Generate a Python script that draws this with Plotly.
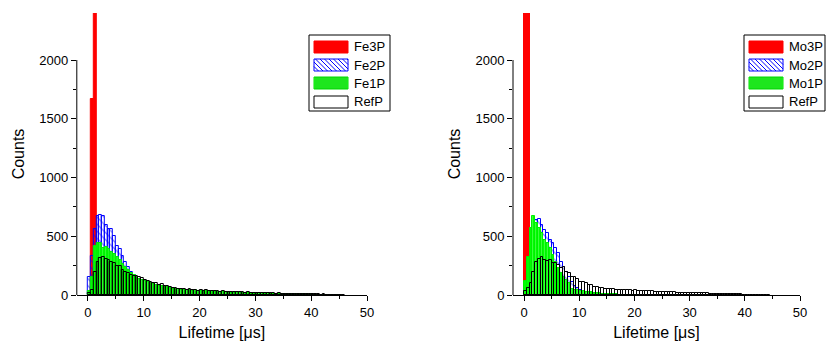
import plotly.graph_objects as go

# ---------------- data (counts per 0.5 µs bin, starting at 0 µs) ----------------
bin_width = 0.5

fe3p = [0, 1670, 2600]
fe2p = [150, 330, 560, 670, 680, 670, 600, 560, 560, 500, 420, 390, 330, 280, 240, 200,
        170, 150, 130, 115, 100, 90, 80, 72, 65, 58, 52, 46, 42, 38, 35, 32, 29, 27, 25,
        23, 21, 19, 18, 17, 16, 15, 14, 13, 12, 11, 10, 9, 9, 8, 8, 7, 7, 6, 6, 5, 5, 5,
        4, 4, 4, 3, 3, 3, 3, 2, 2, 2, 2, 2, 1, 1, 1, 1, 1, 1, 1, 0, 1]
fe1p = [30, 150, 420, 445, 440, 400, 410, 390, 370, 350, 320, 300, 260, 235, 210, 190,
        172, 155, 140, 128, 118, 108, 100, 90, 85, 78, 75, 66, 65, 58, 52, 54, 48, 44, 45,
        40, 42, 37, 39, 33, 37, 31, 34, 29, 30, 26, 29, 24, 27, 23, 24, 21, 20, 22, 18, 19,
        17, 18, 16, 17, 15, 14, 14, 12, 13, 11, 12, 10, 10, 9, 9, 8, 8, 7, 7, 6, 6, 5, 6,
        4, 5, 3, 4, 3, 3, 2, 3, 2, 1, 2, 1]
refp_fe = [15, 45, 195, 280, 315, 325, 310, 300, 285, 270, 245, 250, 215, 200, 190, 172,
           165, 158, 152, 142, 130, 122, 114, 102, 100, 88, 90, 75, 76, 66, 60, 62, 55, 50,
           52, 45, 48, 42, 45, 38, 43, 36, 40, 33, 35, 30, 34, 28, 32, 27, 28, 25, 24, 26,
           22, 23, 20, 22, 19, 21, 18, 17, 18, 15, 16, 14, 15, 12, 13, 11, 12, 10, 11, 9,
           10, 8, 9, 7, 8, 6, 7, 5, 6, 4, 5, 3, 4, 3, 2, 3, 2, 1]

mo3p = [2600, 2600]
mo2p = [80, 250, 450, 600, 640, 645, 600, 555, 525, 470, 440, 400, 355, 285, 240, 200,
        150, 110, 80, 60, 45, 35, 25, 20, 15, 12, 10, 8, 6, 5, 4, 3, 2, 2, 1, 1]
mo1p = [120, 320, 570, 670, 615, 570, 525, 470, 440, 400, 340, 285, 230, 185, 155, 125,
        100, 55, 45, 40, 35, 30, 28, 25, 22, 20, 18, 15, 12, 10, 8, 7, 6, 5, 4, 3, 3, 2,
        2, 1, 1]
refp_mo = [37, 57, 99, 199, 284, 304, 321, 298, 292, 298, 270, 276, 255, 227, 241, 199,
           184, 150, 156, 133, 114, 114, 99, 85, 88, 71, 72, 60, 57, 55, 50, 52, 48, 45,
           46, 43, 44, 40, 42, 38, 43, 36, 38, 33, 34, 30, 30, 28, 29, 27, 28, 25, 24, 22,
           23, 20, 21, 19, 20, 18, 20, 17, 16, 15, 15, 14, 13, 12, 12, 11, 10, 9, 9, 8, 8,
           7, 6, 6, 5, 4, 4, 3, 3, 2, 2, 1, 1, 0, 1]

left_names = ["Fe3P", "Fe2P", "Fe1P", "RefP"]
right_names = ["Mo3P", "Mo2P", "Mo1P", "RefP"]
x_ticks = [0, 10, 20, 30, 40, 50]
y_ticks = [0, 500, 1000, 1500, 2000]
x_title = "Lifetime [μs]"
y_title = "Counts"

# ---------------- layout constants ----------------
W, H = 828, 347
MT, MB = 13, 52
PLOT_H = H - MT - MB
FONT = "Liberation Sans, Arial, sans-serif"
kinds = ["red", "blue", "green", "ref"]


def centers(vals):
    return [bin_width * (i + 0.5) for i in range(len(vals))]


def style(kind):
    if kind == "red":
        return dict(color="#ff0000", line=dict(color="#ff0000", width=1))
    if kind == "blue":
        return dict(color="rgba(0,0,0,0)", line=dict(color="#0000ff", width=1),
                    pattern=dict(shape="\\", fgcolor="#0000ff", bgcolor="rgba(255,255,255,0)",
                                 size=5, solidity=0.25, fillmode="overlay"))
    if kind == "green":
        return dict(color="#00ff00", line=dict(color="#00ee00", width=1),
                    pattern=dict(shape="|", fgcolor="#80ff80", size=3, solidity=0.3,
                                 fillmode="overlay"))
    return dict(color="rgba(0,0,0,0)", line=dict(color="#000000", width=1))


fig = go.Figure()
left_data = [fe3p, fe2p, fe1p, refp_fe]
right_data = [mo3p, mo2p, mo1p, refp_mo]
for i, kind in enumerate(kinds):
    fig.add_trace(go.Bar(x=centers(left_data[i]), y=left_data[i], width=bin_width,
                         name=left_names[i], marker=style(kind), xaxis="x", yaxis="y",
                         showlegend=False))
    fig.add_trace(go.Bar(x=centers(right_data[i]), y=right_data[i], width=bin_width,
                         name=right_names[i], marker=style(kind), xaxis="x2", yaxis="y2",
                         showlegend=False))

minor_y = dict(ticks="outside", ticklen=3, tickwidth=1, tickcolor="black",
               tickvals=[250, 750, 1250, 1750])
minor_x = dict(ticks="outside", ticklen=3, tickwidth=1, tickcolor="black", dtick=5)
tickfont = dict(family=FONT, size=13, color="black")
titlefont = dict(family=FONT, size=16, color="black")

xcommon = dict(range=[-2, 50], tickvals=x_ticks, showline=True, linecolor="black",
               linewidth=1, showgrid=False, zeroline=False, ticks="outside", ticklen=5,
               tickwidth=1, tickcolor="black", tickfont=tickfont, minor=minor_x,
               automargin=False,
               title=dict(text=x_title, font=titlefont, standoff=8))
ycommon = dict(range=[0, 2400], tickvals=y_ticks, showline=False, showgrid=False,
               zeroline=False, ticks="outside", ticklen=5, tickwidth=1, tickcolor="black",
               tickfont=tickfont, minor=minor_y, automargin=False,
               title=dict(text=y_title, font=titlefont, standoff=10))

fig.update_layout(
    width=W, height=H,
    margin=dict(l=0, r=0, t=MT, b=MB),
    paper_bgcolor="white", plot_bgcolor="white",
    barmode="overlay", bargap=0, showlegend=False,
    xaxis=dict(xcommon, domain=[76.8 / W, 367 / W], anchor="y"),
    yaxis=dict(ycommon, domain=[0, 1], anchor="x"),
    xaxis2=dict(xcommon, domain=[513 / W, 800 / W], anchor="y2"),
    yaxis2=dict(ycommon, domain=[0, 1], anchor="x2"),
)

# y-axis lines (drawn from 0 to 2000 like the original frame)
for xr, yr in [("x domain", "y"), ("x2 domain", "y2")]:
    fig.add_shape(type="line", xref=xr, yref=yr, x0=0, x1=0, y0=0, y1=y_ticks[-1],
                  line=dict(color="black", width=1))


# ---------------- hand-drawn legends (pixel positions -> paper coords) ----------------
def px(xp):
    return xp / W


def py(yp):
    return (H - MB - yp) / PLOT_H


def add_line(x0, y0, x1, y1, color, width=1):
    fig.add_shape(type="line", xref="paper", yref="paper", x0=px(x0), y0=py(y0),
                  x1=px(x1), y1=py(y1), line=dict(color=color, width=width))


def add_rect(x0, y0, x1, y1, fill, line_color, width=1):
    fig.add_shape(type="rect", xref="paper", yref="paper", x0=px(x0), y0=py(y0),
                  x1=px(x1), y1=py(y1), fillcolor=fill,
                  line=dict(color=line_color, width=width))


def draw_legend(left, names):
    top, bottom = 35, 111
    add_rect(left, top, left + 81, bottom, "white", "black", 1)
    sx0, sx1 = left + 5, left + 39
    row_tops = [41, 59, 77, 96]
    for name, kind, rt in zip(names, kinds, row_tops):
        y0, y1 = rt, rt + 12
        if kind == "red":
            add_rect(sx0, y0, sx1, y1, "#ff0000", "#ff0000")
        elif kind == "blue":
            add_rect(sx0, y0, sx1, y1, "white", "#0000ff")
            step = 4.5
            c = sx0 - (y1 - y0)
            while c < sx1:
                xa, ya = c, y0
                xb, yb = c + (y1 - y0), y1
                if xa < sx0:
                    ya = y0 + (sx0 - c)
                    xa = sx0
                if xb > sx1:
                    yb = y0 + (sx1 - c)
                    xb = sx1
                if xb > xa:
                    add_line(xa, ya, xb, yb, "#0000ff", 1)
                c += step
        elif kind == "green":
            add_rect(sx0, y0, sx1, y1, "#33ff33", "#00dd00")
            xv = sx0 + 2
            while xv < sx1:
                add_line(xv, y0, xv, y1, "#00c000", 0.8)
                xv += 2
        else:
            add_rect(sx0, y0, sx1, y1, "white", "black")
        fig.add_annotation(x=px(sx1 + 4), y=py((y0 + y1) / 2), xref="paper", yref="paper",
                           text=name, showarrow=False, xanchor="left", yanchor="middle",
                           font=dict(family=FONT, size=13, color="black"))


draw_legend(309, left_names)
draw_legend(744, right_names)

fig.write_html("out.html", config={"displayModeBar": False},
               post_script="document.body.style.margin='0';document.body.style.padding='0';")
